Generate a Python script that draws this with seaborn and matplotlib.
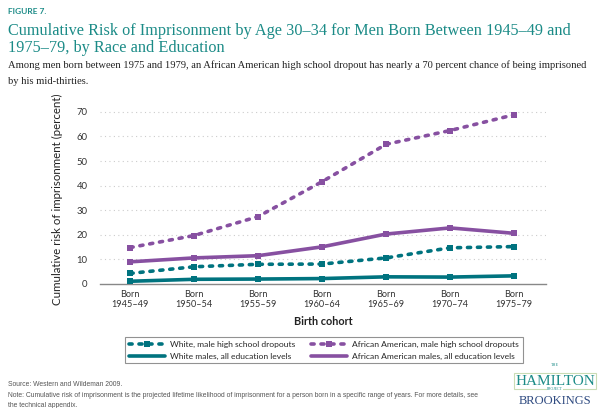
import matplotlib
matplotlib.use("Agg")
import matplotlib.pyplot as plt
import seaborn as sns
import pandas as pd
from matplotlib.lines import Line2D

cohorts = ["Born\n1945–49", "Born\n1950–54", "Born\n1955–59", "Born\n1960–64",
           "Born\n1965–69", "Born\n1970–74", "Born\n1975–79"]
white_dropouts = [4.3, 7.0, 8.0, 8.1, 10.6, 14.7, 15.2]
white_all = [1.1, 1.9, 2.0, 2.2, 2.9, 2.8, 3.3]
aa_dropouts = [14.8, 19.7, 27.4, 41.6, 56.8, 62.4, 68.8]
aa_all = [9.0, 10.6, 11.5, 15.1, 20.3, 22.8, 20.6]
yticks = [0, 10, 20, 30, 40, 50, 60, 70]

TEAL = "#00737f"
PURPLE = "#8750a1"
TITLE = "#1b8b87"
DOTS = (0, (0.86, 1.9))

sns.set_theme(style="white")
plt.rcParams["font.family"] = ["Lato", "DejaVu Sans"]

fig = plt.figure(figsize=(6, 4.08), dpi=100)
ax = fig.add_axes([0.1667, 0.304, 0.7433, 0.452])

series = [
    ("White, male high school dropouts", white_dropouts, TEAL, True),
    ("African American, male high school dropouts", aa_dropouts, PURPLE, True),
    ("White males, all education levels", white_all, TEAL, False),
    ("African American males, all education levels", aa_all, PURPLE, False),
]

x = list(range(len(cohorts)))
handles = {}
for name, vals, col, dotted in series:
    df = pd.DataFrame({"x": x, "y": vals})
    sns.lineplot(data=df, x="x", y="y", ax=ax, color=col, lw=2.6,
                 marker="s", markersize=4.4, markeredgewidth=0, zorder=3)
    ln = ax.lines[-1]
    if dotted:
        ln.set_linestyle(DOTS)
        ln.set_dash_capstyle("round")
        handles[name] = Line2D([0], [0], color=col, lw=2.6, linestyle=DOTS,
                               dash_capstyle="round", marker="s", markersize=5,
                               markeredgewidth=0)
    else:
        ln.set_solid_capstyle("round")
        handles[name] = Line2D([0], [0], color=col, lw=2.6, solid_capstyle="round")

ax.set_xlim(-0.47, 6.5)
ax.set_ylim(0, 75)
ax.set_xticks(x)
ax.set_xticklabels(cohorts, fontsize=6.6, color="#333333", linespacing=1.15)
ax.set_yticks(yticks)
ax.set_yticklabels([str(t) for t in yticks], fontsize=6.8, color="#333333")
ax.tick_params(axis="x", length=0, pad=4)
ax.tick_params(axis="y", length=0, pad=9)
for t in yticks[1:]:
    ax.axhline(t, color="#cccccc", lw=0.8, linestyle=(0, (1, 3)), zorder=1)
for s in ["top", "right", "left"]:
    ax.spines[s].set_visible(False)
ax.spines["bottom"].set_color("#888888")
ax.spines["bottom"].set_linewidth(1.0)
ax.set_xlabel("Birth cohort", fontsize=7.8, fontweight="bold", color="#222222", labelpad=5)
ax.set_ylabel("Cumulative risk of imprisonment (percent)", fontsize=8.3, color="#222222",
              labelpad=6)
ax.yaxis.set_label_coords(-0.082, 0.46)

order = ["White, male high school dropouts", "White males, all education levels",
         "African American, male high school dropouts",
         "African American males, all education levels"]
leg = fig.legend([handles[k] for k in order], order, ncol=2, loc="center",
                 bbox_to_anchor=(0.54, 0.141), fontsize=6.1, frameon=True, fancybox=False,
                 handlelength=4.2, columnspacing=1.9, handletextpad=0.6,
                 borderpad=0.45, labelspacing=0.5)
leg.get_frame().set_edgecolor("#777777")
leg.get_frame().set_linewidth(0.8)

fig.text(0.013, 0.965, "FIGURE 7.", fontsize=6, fontweight="bold", color=TITLE)
fig.text(0.013, 0.872, "Cumulative Risk of Imprisonment by Age 30–34 for Men Born Between 1945–49 and\n1975–79, by Race and Education",
         fontsize=11.7, color=TITLE, family="Liberation Serif", linespacing=1.1)
fig.text(0.013, 0.833, "Among men born between 1975 and 1979, an African American high school dropout has nearly a 70 percent chance of being imprisoned",
         fontsize=7.6, color="#222222", family="Liberation Serif")
fig.text(0.013, 0.795, "by his mid-thirties.", fontsize=7.6, color="#222222", family="Liberation Serif")

fig.text(0.013, 0.055, "Source: Western and Wildeman 2009.", fontsize=4.9, color="#555555",
         family="Liberation Sans")
fig.text(0.013, 0.028, "Note: Cumulative risk of imprisonment is the projected lifetime likelihood of imprisonment for a person born in a specific range of years. For more details, see",
         fontsize=4.9, color="#555555", family="Liberation Sans")
fig.text(0.013, 0.003, "the technical appendix.", fontsize=4.9, color="#555555", family="Liberation Sans")

# logo
fig.text(0.925, 0.05, "HAMILTON", fontsize=11, color=TITLE, family="Liberation Serif",
         ha="center", va="bottom",
         bbox=dict(facecolor="none", edgecolor="#c9dcb5", lw=0.8, pad=1.0))
fig.text(0.925, 0.103, "THE", fontsize=3, color=TITLE, family="Liberation Serif", ha="center",
         bbox=dict(facecolor="white", edgecolor="none", pad=0.3))
fig.text(0.925, 0.045, "PROJECT", fontsize=2.8, color=TITLE, family="Liberation Serif", ha="center",
         bbox=dict(facecolor="white", edgecolor="none", pad=0.3))
fig.text(0.925, 0.002, "BROOKINGS", fontsize=9, color="#2e4a80", family="Liberation Serif",
         ha="center", va="bottom")

fig.savefig("out.png", dpi=100)
